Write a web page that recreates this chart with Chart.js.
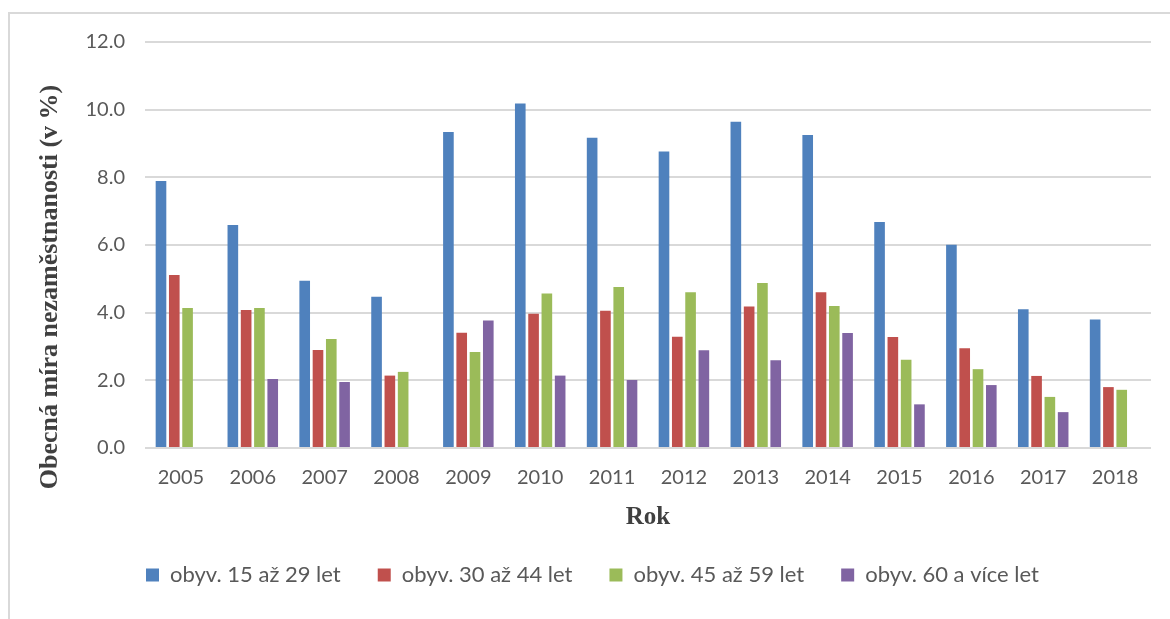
<!DOCTYPE html>
<html lang="cs">
<head>
    <meta charset="UTF-8">
    <title>Obecná míra nezaměstnanosti</title>
    <script src="https://cdn.jsdelivr.net/npm/chart.js"></script>
    <style>
        body {
            margin: 0;
            background: white;
            overflow: hidden;
        }

        .frame {
            position: absolute;
            left: 8px;
            top: 12px;
            width: 1300px;
            height: 800px;
            border-top: 2px solid #d9d9d9;
            border-left: 2px solid #d9d9d9;
        }

        .chart-box {
            position: absolute;
            left: 0;
            top: 0;
            width: 1170px;
            height: 619px;
        }
    </style>
</head>
<body>
    <div class="frame"></div>
    <div class="chart-box">
        <canvas id="rateChart"></canvas>
    </div>

    <script>
        const years = ['2005', '2006', '2007', '2008', '2009', '2010', '2011',
                       '2012', '2013', '2014', '2015', '2016', '2017', '2018'];

        const age15to29 = [7.89, 6.59, 4.94, 4.47, 9.34, 10.18, 9.17, 8.76, 9.64, 9.25, 6.68, 6.01, 4.10, 3.80];
        const age30to44 = [5.11, 4.08, 2.90, 2.14, 3.41, 3.97, 4.06, 3.29, 4.18, 4.60, 3.28, 2.95, 2.13, 1.80];
        const age45to59 = [4.14, 4.14, 3.22, 2.25, 2.84, 4.57, 4.76, 4.60, 4.88, 4.20, 2.61, 2.33, 1.51, 1.72];
        const age60plus = [null, 2.04, 1.95, null, 3.77, 2.14, 2.01, 2.89, 2.59, 3.40, 1.29, 1.86, 1.06, null];

        const seriesNames = ['obyv. 15 až 29 let', 'obyv. 30 až 44 let', 'obyv. 45 až 59 let', 'obyv. 60 a více let'];
        const seriesColors = ['#4f81bd', '#c0504d', '#9bbb59', '#8064a2'];
        const yTicks = [0, 2, 4, 6, 8, 10, 12];
        const yTitle = 'Obecná míra nezaměstnanosti (v %)';

        const labelFont = "Lato, 'Open Sans', sans-serif";
        const titleFont = "'Liberation Serif', 'DejaVu Serif', serif";

        // y title sits a bit lower than the plot centre in the original, so draw it by hand
        const yTitlePlugin = {
            id: 'yTitle',
            afterDraw(chart) {
                const c = chart.ctx;
                c.save();
                c.translate(57, 287);
                c.rotate(-Math.PI / 2);
                c.font = 'bold 26px ' + titleFont;
                c.fillStyle = '#404040';
                c.textAlign = 'center';
                c.textBaseline = 'alphabetic';
                c.fillText(yTitle, 0, 0);
                c.restore();
            }
        };

        // nudge the legend a little to the right
        const legendShift = {
            id: 'legendShift',
            afterLayout(chart) {
                chart.legend.left += 17;
                chart.legend.right += 17;
            }
        };

        const ctx = document.getElementById('rateChart').getContext('2d');
        new Chart(ctx, {
            type: 'bar',
            data: {
                labels: years,
                datasets: [age15to29, age30to44, age45to59, age60plus].map((values, i) => ({
                    label: seriesNames[i],
                    data: values,
                    backgroundColor: seriesColors[i],
                    borderWidth: 0,
                    categoryPercentage: 0.74,
                    barPercentage: 0.8
                }))
            },
            options: {
                responsive: true,
                maintainAspectRatio: false,
                animation: false,
                layout: {
                    padding: { top: 42, left: 0, right: 19, bottom: 23 }
                },
                scales: {
                    x: {
                        grid: { display: false },
                        border: { display: false },
                        ticks: {
                            color: '#595959',
                            font: { family: labelFont, size: 20 },
                            padding: 10,
                            maxRotation: 0
                        },
                        title: {
                            display: true,
                            text: 'Rok',
                            color: '#404040',
                            font: { family: titleFont, size: 25, weight: 'bold' },
                            padding: { top: 0, bottom: -6 }
                        },
                        afterFit: scale => { scale.height = 79; }
                    },
                    y: {
                        min: 0,
                        max: 12,
                        afterBuildTicks: scale => {
                            scale.ticks = yTicks.map(v => ({ value: v }));
                        },
                        grid: {
                            color: '#d9d9d9',
                            lineWidth: 2,
                            drawTicks: false
                        },
                        border: { display: false },
                        ticks: {
                            color: '#595959',
                            font: { family: labelFont, size: 20 },
                            padding: 20,
                            callback: v => Number(v).toFixed(1)
                        },
                        afterFit: scale => { scale.width = 145; }
                    }
                },
                plugins: {
                    legend: {
                        position: 'bottom',
                        labels: {
                            color: '#595959',
                            font: { family: labelFont, size: 22 },
                            boxWidth: 13,
                            boxHeight: 13,
                            padding: 37
                        }
                    },
                    tooltip: { enabled: false }
                }
            },
            plugins: [yTitlePlugin, legendShift]
        });
    </script>
</body>
</html>
